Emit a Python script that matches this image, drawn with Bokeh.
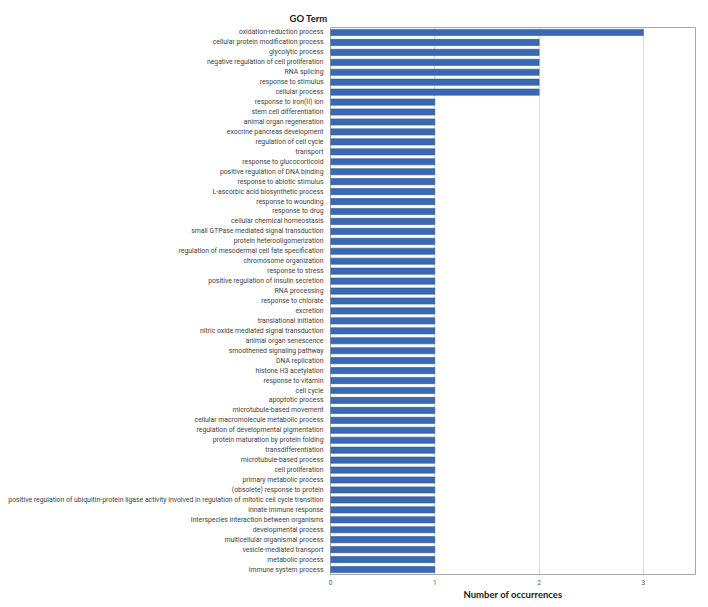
from bokeh.plotting import figure
from bokeh.models import FactorRange, Title, FixedTicker, ColumnDataSource
from bokeh.embed import file_html
from bokeh.resources import INLINE

go_terms = [
    "oxidation-reduction process",
    "cellular protein modification process",
    "glycolytic process",
    "negative regulation of cell proliferation",
    "RNA splicing",
    "response to stimulus",
    "cellular process",
    "response to iron(II) ion",
    "stem cell differentiation",
    "animal organ regeneration",
    "exocrine pancreas development",
    "regulation of cell cycle",
    "transport",
    "response to glucocorticoid",
    "positive regulation of DNA binding",
    "response to abiotic stimulus",
    "L-ascorbic acid biosynthetic process",
    "response to wounding",
    "response to drug",
    "cellular chemical homeostasis",
    "small GTPase mediated signal transduction",
    "protein heterooligomerization",
    "regulation of mesodermal cell fate specification",
    "chromosome organization",
    "response to stress",
    "positive regulation of insulin secretion",
    "RNA processing",
    "response to chlorate",
    "excretion",
    "translational initiation",
    "nitric oxide mediated signal transduction",
    "animal organ senescence",
    "smoothened signaling pathway",
    "DNA replication",
    "histone H3 acetylation",
    "response to vitamin",
    "cell cycle",
    "apoptotic process",
    "microtubule-based movement",
    "cellular macromolecule metabolic process",
    "regulation of developmental pigmentation",
    "protein maturation by protein folding",
    "transdifferentiation",
    "microtubule-based process",
    "cell proliferation",
    "primary metabolic process",
    "(obsolete) response to protein",
    "positive regulation of ubiquitin-protein ligase activity involved in regulation of mitotic cell cycle transition",
    "innate immune response",
    "interspecies interaction between organisms",
    "developmental process",
    "multicellular organismal process",
    "vesicle-mediated transport",
    "metabolic process",
    "immune system process",
]

occurrences = [3, 2, 2, 2, 2, 2, 2] + [1] * 48

x_ticks = [0, 1, 2, 3]

source = ColumnDataSource(dict(term=go_terms, count=occurrences))

p = figure(
    y_range=FactorRange(*reversed(go_terms)),
    x_range=(0, 3.5),
    frame_width=365,
    frame_height=547,
    min_border_left=330,
    min_border_right=13,
    min_border_top=27,
    min_border_bottom=33,
    output_backend="svg",
    toolbar_location=None,
)
p.styles = {"outline": "1px solid #e4e6ea", "outline-offset": "-3px"}

p.hbar(y="term", right="count", left=0, height=0.62, source=source,
       fill_color="#3a69b2", line_color="#2c5697", line_width=0.6)

# grid
p.ygrid.grid_line_color = None
p.xgrid.grid_line_color = "#d9d9d9"
p.xgrid.grid_line_width = 1
p.xgrid.ticker = FixedTicker(ticks=x_ticks)

p.outline_line_color = "#a6a6a6"
p.outline_line_width = 1

# y axis
p.yaxis.axis_line_color = None
p.yaxis.major_tick_line_color = None
p.yaxis.minor_tick_line_color = None
p.yaxis.major_tick_out = 0
p.yaxis.major_tick_in = 0
p.yaxis.major_label_text_font = "Roboto"
p.yaxis.major_label_text_font_size = "6.85px"
p.yaxis.major_label_text_color = "#404040"
p.yaxis.major_label_standoff = 7

# x axis
p.xaxis.ticker = FixedTicker(ticks=x_ticks)
p.xaxis.axis_line_color = None
p.xaxis.major_tick_line_color = None
p.xaxis.minor_tick_line_color = None
p.xaxis.major_tick_out = 0
p.xaxis.major_tick_in = 0
p.xaxis.major_label_text_font = "Roboto"
p.xaxis.major_label_text_font_size = "6.5px"
p.xaxis.major_label_text_color = "#595959"
p.xaxis.major_label_standoff = 5
p.xaxis.axis_label = "Number of occurrences"
p.xaxis.axis_label_text_font = "Lato"
p.xaxis.axis_label_text_font_style = "bold"
p.xaxis.axis_label_text_font_size = "9.5px"
p.xaxis.axis_label_text_color = "#1a1a1a"
p.xaxis.axis_label_standoff = 1

title = Title(text="GO Term", align="left", offset=-41, standoff=7,
              text_font="Lato", text_font_style="bold",
              text_font_size="9.5px", text_color="#1a1a1a")
p.add_layout(title, "above")

open("out.html", "w").write(file_html(p, INLINE))
